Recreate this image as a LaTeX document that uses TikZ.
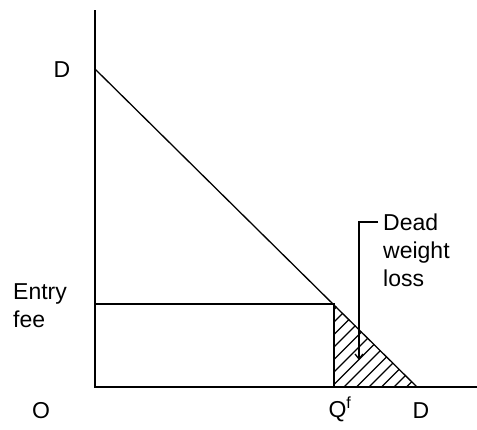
\documentclass[tikz,border=0pt]{standalone}
\usepackage{fontspec}
\setmainfont{Liberation Sans}
\usetikzlibrary{arrows.meta}
\begin{document}
\begin{tikzpicture}[x=1pt,y=-1pt,
  axis/.style={line width=1.5pt},
  curve/.style={line width=1.3pt},
  lbl/.style={font=\fontsize{23}{28}\selectfont, inner sep=0pt},
  hatch/.style={line width=1.1pt}]
\useasboundingbox (0,0) rectangle (477,429);
% axes
\coordinate (top) at (95,10);
\coordinate (O) at (95,387);
\coordinate (xend) at (477,387);
\draw[axis] (top) -- (O) -- (xend);
% demand
\coordinate (D1) at (95,69);
\coordinate (D2) at (417,387);
\draw[curve] (D1) -- (D2);
% entry fee line and Qf
\coordinate (E) at (95,304);
\coordinate (P) at (334,304);
\coordinate (Q) at (334,387);
\draw[curve] (E) -- (P) -- (Q);
% hatching
\begin{scope}
\clip (P) -- (Q) -- (D2) -- cycle;
\foreach \i in {-8,...,8}{
  \draw[hatch] ({334+12.5*\i+6},391) -- ++(120,-120);
}
\end{scope}
\draw[curve] (P) -- (Q) -- (D2);
% pointer
\coordinate (p1) at (378,222);
\coordinate (p2) at (359,222);
\coordinate (p3) at (359,360);
\draw[curve,-{Straight Barb[length=5pt,width=8pt]}] (p1) -- (p2) -- (p3);
% labels
\node[lbl] (lD1) at (62,70) {D};
\node[lbl, anchor=west, align=left] (lE) at (13,306) {Entry\\fee};
\node[lbl] (lO) at (41,411) {O};
\node[lbl] (lQ) at (340,409) {Q\textsuperscript{f}};
\node[lbl] (lD2) at (421,411) {D};
\node[lbl, anchor=west, align=left] (lDW) at (383,250) {Dead\\weight\\loss};
\end{tikzpicture}
\end{document}
